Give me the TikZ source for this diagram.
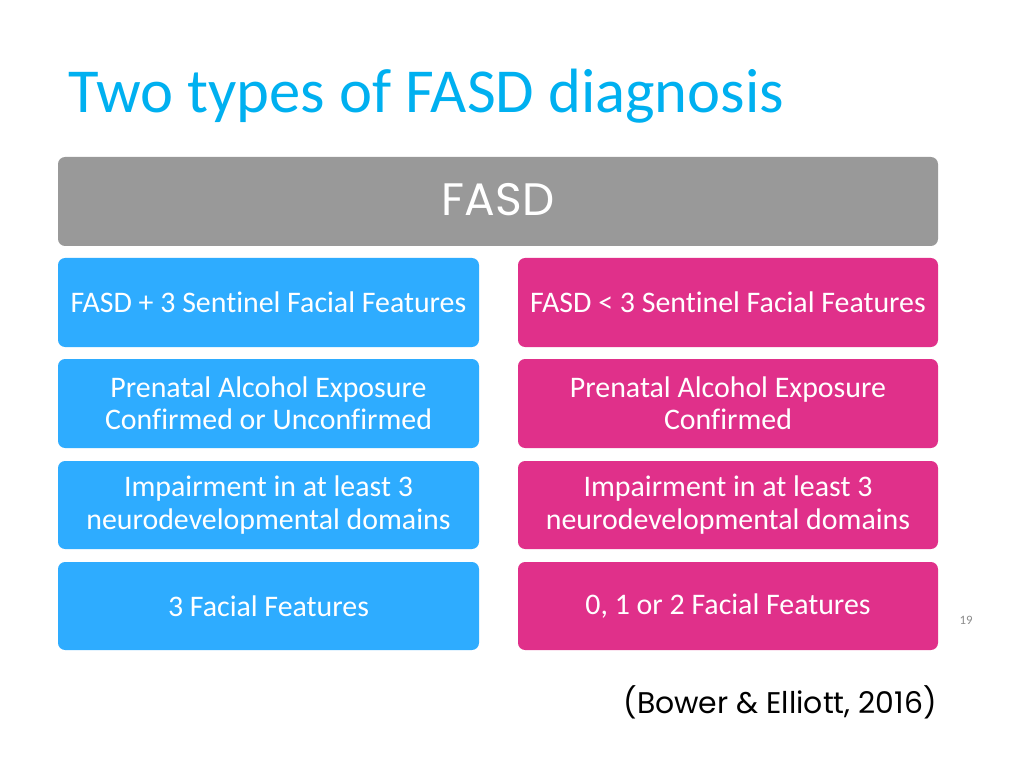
\documentclass[tikz,border=0pt]{standalone}
\usepackage{fontspec}
\setmainfont[Ligatures=NoCommon]{Carlito}
\newfontfamily\geofont{Poppins}
\definecolor{titleblue}{RGB}{0,176,240}
\definecolor{boxgray}{RGB}{153,153,153}
\definecolor{boxblue}{RGB}{46,172,255}
\definecolor{boxpink}{RGB}{224,48,138}
\definecolor{numgray}{RGB}{140,140,140}
\tikzset{
  cell/.style={inner sep=0pt, text=white, align=center,
    font=\fontsize{21}{22.8}\selectfont},
  bluebox/.style={fill=boxblue, rounded corners=5pt},
  pinkbox/.style={fill=boxpink, rounded corners=5pt},
}
\begin{document}
\begin{tikzpicture}[x=0.703125pt, y=-0.703125pt]
\useasboundingbox[fill=white] (0,0) rectangle (1024,768);
\node[anchor=base west, inner sep=0pt, text=titleblue, font=\fontsize{44}{50}\selectfont] (title) at (68,113) {Two types of FASD diagnosis};
\fill[boxgray, rounded corners=5pt] (58,157) rectangle (938,246);
\node[inner sep=0pt, text=white, font=\geofont\fontsize{32}{36}\selectfont] (fasd) at (498,200) {FASD};
% left column
\fill[bluebox] (58,258) rectangle (479,347);
\node[cell] (l1) at (268.5,302.5) {FASD + 3 Sentinel Facial Features};
\fill[bluebox] (58,359) rectangle (479,448);
\node[cell] (l2) at (268.5,403.5) {Prenatal Alcohol Exposure\\Confirmed or Unconfirmed};
\fill[bluebox] (58,461) rectangle (479,549);
\node[cell] (l3) at (268.5,505) {Impairment in at least 3\\neurodevelopmental domains};
\fill[bluebox] (58,562) rectangle (479,650);
\node[cell] (l4) at (268.5,606) {3 Facial Features};
% right column
\fill[pinkbox] (518,258) rectangle (938,347);
\node[cell] (r1) at (728,302.5) {FASD < 3 Sentinel Facial Features};
\fill[pinkbox] (518,359) rectangle (938,448);
\node[cell] (r2) at (728,403.5) {Prenatal Alcohol Exposure\\Confirmed};
\fill[pinkbox] (518,461) rectangle (938,549);
\node[cell] (r3) at (728,505) {Impairment in at least 3\\neurodevelopmental domains};
\fill[pinkbox] (518,562) rectangle (938,650);
\node[cell] (r4) at (728,606) {0, 1 or 2 Facial Features};
\node[inner sep=0pt, text=numgray, font=\fontsize{9}{10}\selectfont] (num) at (966,620) {19};
\node[anchor=base east, inner sep=0pt, font=\geofont\fontsize{21}{24}\selectfont] (cite) at (937,713) {(Bower \& Elliott, 2016)};
\end{tikzpicture}
\end{document}
